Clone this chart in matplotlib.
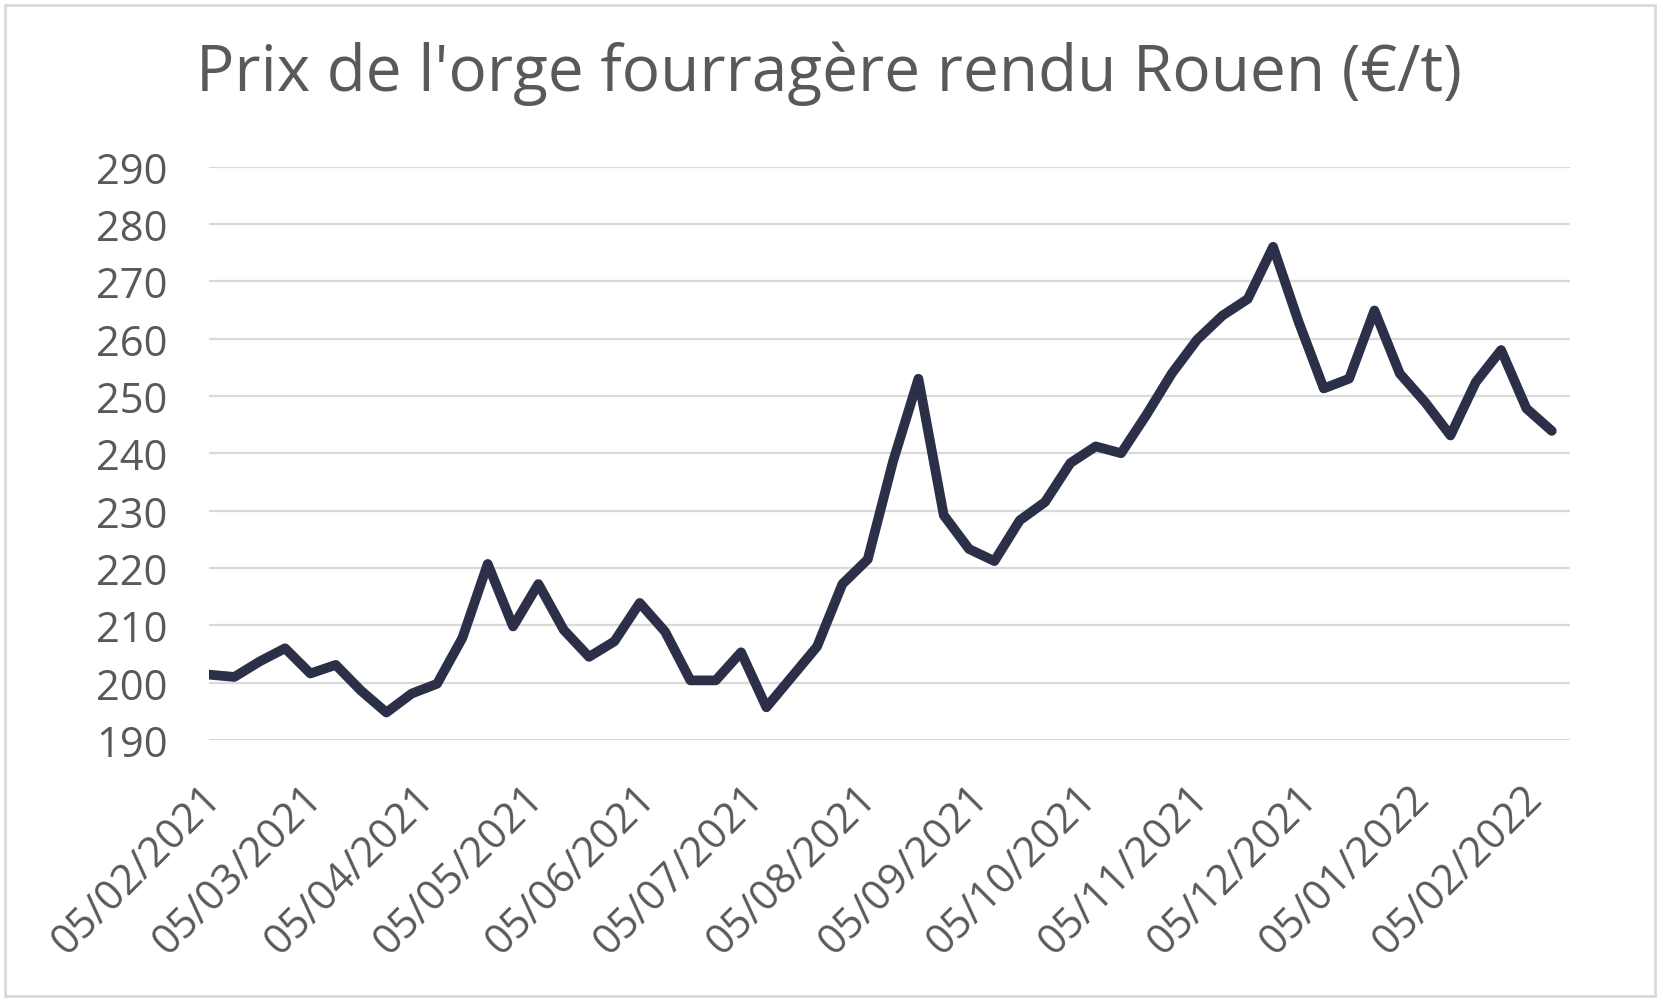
import matplotlib
matplotlib.use("Agg")
import matplotlib.pyplot as plt
import matplotlib.dates as mdates
import matplotlib.transforms as mtransforms
import pandas as pd
import numpy as np
from matplotlib.patches import Rectangle

title = "Prix de l'orge fourragère rendu Rouen (€/t)"
start_date = "2021-02-05"
n_weeks = 54
prices = [201.4, 201.0, 203.7, 206.0, 201.6, 203.1, 198.6, 194.8, 198.1, 199.8,
          207.8, 220.7, 209.8, 217.2, 209.2, 204.5, 207.2, 213.9, 208.9, 200.4,
          200.4, 205.3, 195.7, 201.0, 206.3, 217.2, 221.5, 238.6, 253.0, 229.2,
          223.3, 221.2, 228.3, 231.5, 238.3, 241.2, 240.0, 246.7, 253.9, 259.8,
          264.0, 266.9, 276.0, 263.0, 251.3, 253.0, 264.9, 253.9, 248.9, 243.1,
          252.4, 258.0, 247.8, 243.9]
dates = pd.date_range(start_date, periods=n_weeks, freq="7D")
tick_dates = pd.date_range("2021-02-01", "2022-02-01", freq="MS") + pd.Timedelta(days=4)
y_ticks = list(range(190, 300, 10))

plt.rcParams['font.family'] = ['Open Sans', 'DejaVu Sans']
text_color = "#595959"

fig = plt.figure(figsize=(16.63, 10.03), dpi=100)
ax = fig.add_axes([0.1257, 0.2612, 0.944 - 0.1257, 0.833 - 0.2612])

ax.plot(dates, prices, color="#2b2f48", lw=7, solid_joinstyle="round",
        solid_capstyle="round", zorder=3)

ax.set_ylim(190, 290)
ax.set_yticks(y_ticks)
ax.set_xlim(dates[0], dates[-1] + pd.Timedelta(days=5))
ax.set_xticks(tick_dates)
ax.xaxis.set_major_formatter(mdates.DateFormatter("%d/%m/%Y"))

ax.grid(axis="y", color="#d9d9d9", lw=1.6, zorder=0)
ax.grid(axis="x", visible=False)
for s in ax.spines.values():
    s.set_visible(False)
ax.tick_params(axis="both", length=0, colors=text_color, labelsize=30)
ax.tick_params(axis="y", pad=30)
ax.tick_params(axis="x", pad=26)
offset = mtransforms.ScaledTranslation(-0.09, 0, fig.dpi_scale_trans)
for lab in ax.get_xticklabels():
    lab.set_rotation(45)
    lab.set_ha("right")
    lab.set_rotation_mode("anchor")
    lab.set_transform(lab.get_transform() + offset)

fig.text(0.4985, 0.926, title, ha="center", va="center", fontsize=46, color=text_color)

fig.patches.append(Rectangle((0.003, 0.006), 0.992, 0.988, transform=fig.transFigure,
                             fill=False, edgecolor="#d9d9d9", lw=2))

fig.savefig("out.png", dpi=100, facecolor="white")
